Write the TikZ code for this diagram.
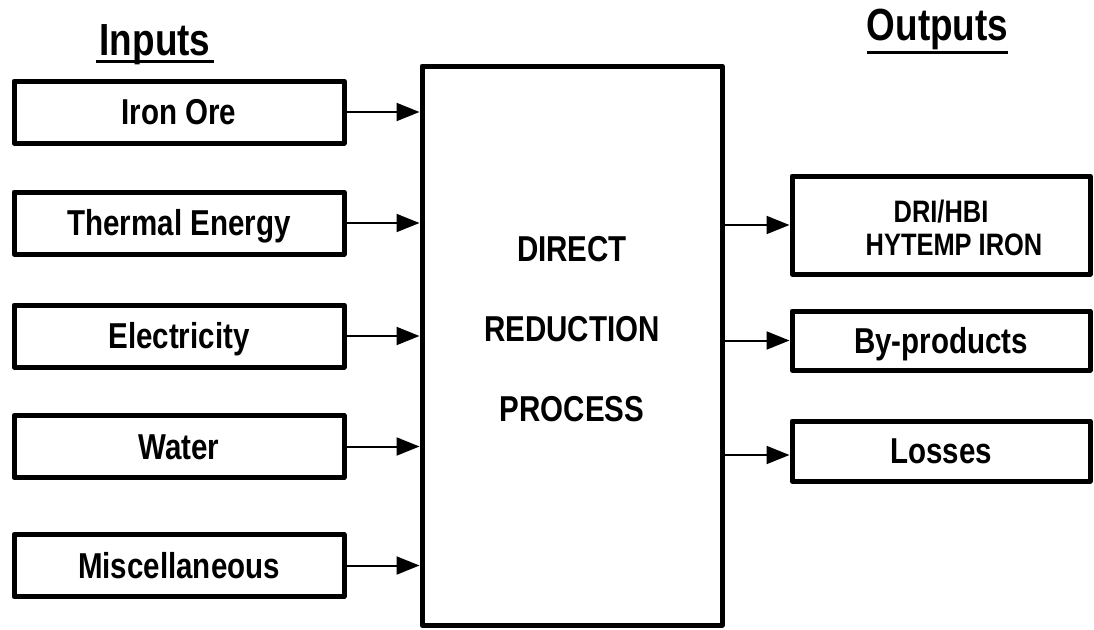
\documentclass[tikz,border=0pt]{standalone}
\usepackage{fontspec}
\setmainfont{Liberation Sans}[FakeStretch=0.82]
\usetikzlibrary{arrows.meta}
\begin{document}
\begin{tikzpicture}[x=1pt,y=-1pt,
  boxline/.style={draw, line width=5pt, line join=round, inner sep=0pt},
  lblfont/.style={font=\fontsize{36}{40}\selectfont\bfseries, text height=25.8pt, text depth=0pt},
  inbox/.style={boxline, lblfont, minimum width=330pt, minimum height=62pt},
  outbox/.style={boxline, lblfont, minimum width=298pt},
  flow/.style={-{Triangle[length=23pt,width=18pt]}, line width=2pt},
  title/.style={font=\fontsize{45}{50}\selectfont\bfseries, inner sep=0pt, anchor=base},
  uline/.style={line width=3pt}]
\useasboundingbox (0,0) rectangle (1094,629);
% titles
\node[title] (inp) at (155,55) {Inputs};
\node[title] (outp) at (937.5,40) {Outputs};
\draw[uline] ([xshift=-3pt,yshift=-6.7pt]inp.base west) -- ([xshift=3pt,yshift=-6.7pt]inp.base east);
\draw[uline] ([yshift=-12.3pt]outp.base west) -- ([yshift=-12.3pt]outp.base east);
% inputs
\node[inbox] (ore)   at (179,112)   {Iron Ore};
\node[inbox] (therm) at (179,223)   {Thermal Energy};
\node[inbox] (elec)  at (179,336)   {Electricity};
\node[inbox] (water) at (179,446.5) {Water};
\node[inbox] (misc)  at (179,565.5) {Miscellaneous};
% process
\node[boxline, minimum width=300pt, minimum height=559pt] (proc) at (572,345.5) {};
\node[align=center, font=\fontsize{36}{80}\selectfont\bfseries, inner sep=0pt] (ptext) at (572,329.5) {DIRECT\\REDUCTION\\PROCESS};
% outputs
\node[boxline, minimum width=298pt, minimum height=98pt, align=center,
      font=\fontsize{31}{33}\selectfont\bfseries] (dri) at (941,225)
      {\rule{0pt}{28pt}DRI/HBI\\\hspace*{26pt}HYTEMP IRON};
\node[outbox, minimum height=59pt] (byp)  at (941,340.5) {By-products};
\node[outbox, minimum height=60pt] (loss) at (941,451)   {Losses};
\coordinate (lossin) at ([yshift=-4pt]loss.west);
% connectors
\draw[flow] (ore.east)   -- (ore.east -| proc.west);
\draw[flow] (therm.east) -- (therm.east -| proc.west);
\draw[flow] (elec.east)  -- (elec.east -| proc.west);
\draw[flow] (water.east) -- (water.east -| proc.west);
\draw[flow] (misc.east)  -- (misc.east -| proc.west);
\draw[flow] (proc.east |- dri.west) -- (dri.west);
\draw[flow] (proc.east |- byp.west) -- (byp.west);
\draw[flow] (proc.east |- lossin) -- (lossin);
\end{tikzpicture}
\end{document}
